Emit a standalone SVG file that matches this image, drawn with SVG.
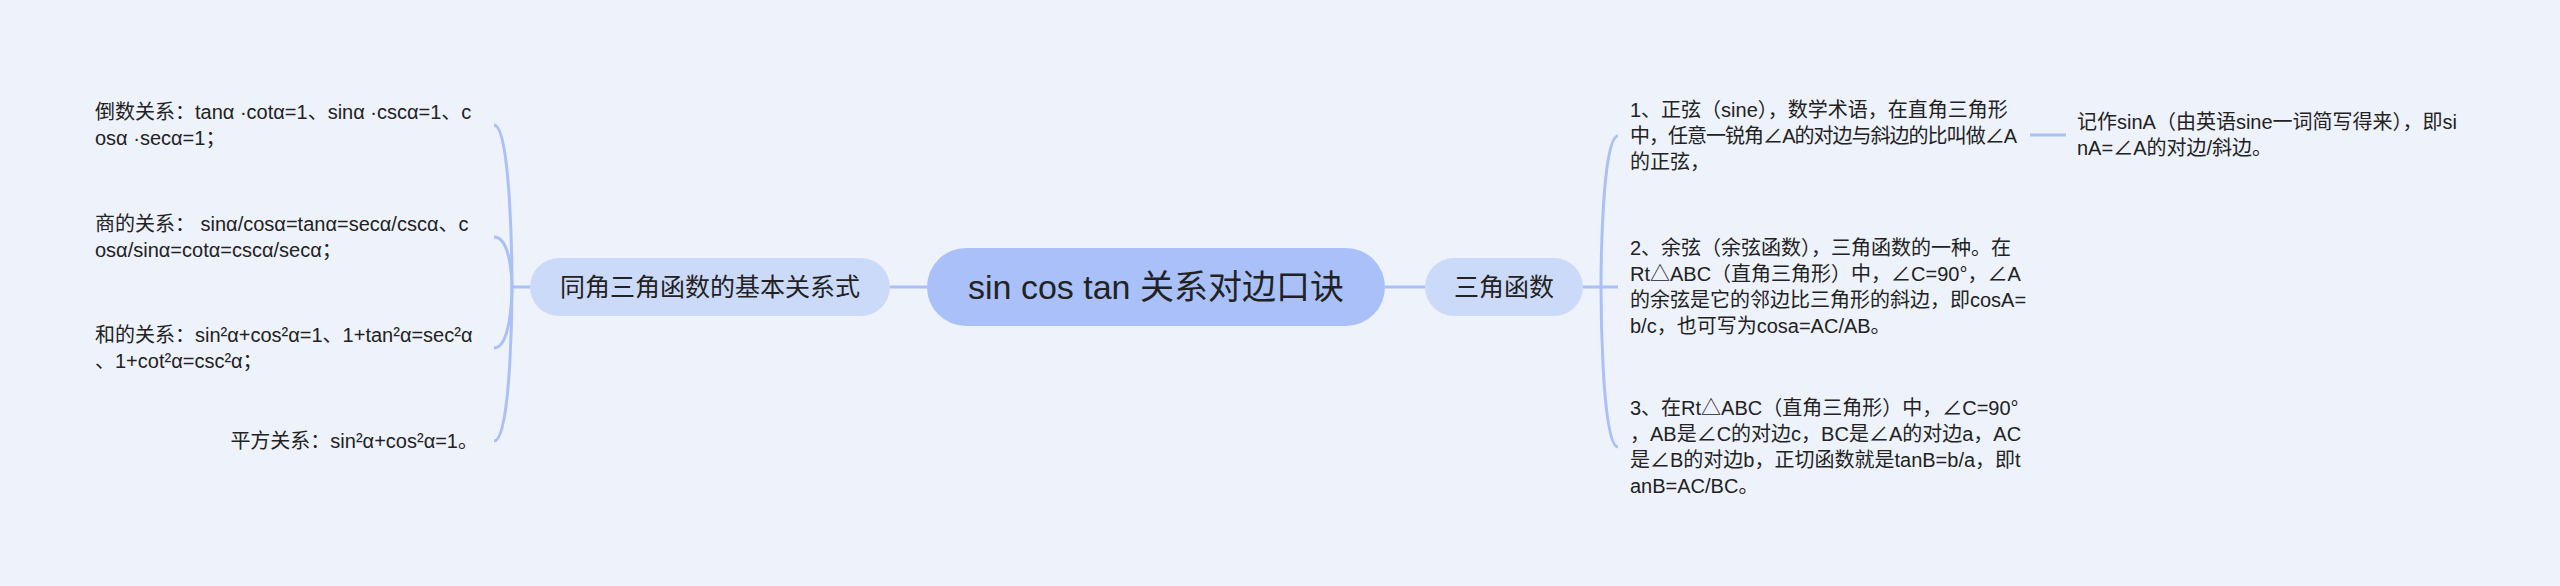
<svg xmlns="http://www.w3.org/2000/svg" width="2560" height="586" viewBox="0 0 2560 586">
<style>
text{font-family:'Liberation Sans','Noto Sans CJK SC',sans-serif;fill:#222222}
.leaf{font-size:20px}
.sub{font-size:25px}
.root{font-size:34px}
.main{fill:none;stroke:#A9C1F6;stroke-width:3}
.br{fill:none;stroke:#A9C1F6;stroke-width:3}
.rootbox{fill:#A9C1F8}
.subbox{fill:#CCDAFA}
</style>
<rect x="0" y="0" width="2560" height="586" fill="#EEF2FB"/>
<g id="connectors">
<path class="main" d="M927 287 L890 287"/>
<path class="main" d="M530 287 L512 287"/>
<path class="br" d="M512 287 C512 287 512 125 494 125"/>
<path class="br" d="M512 287 C512 287 512 237 494 237"/>
<path class="br" d="M512 287 C512 287 512 348 494 348"/>
<path class="br" d="M512 287 C512 287 512 441 494 441"/>
<path class="main" d="M1385 287 L1425 287"/>
<path class="main" d="M1583 287 L1601 287"/>
<path class="br" d="M1601 287 C1601 287 1601 136 1618 136"/>
<path class="br" d="M1601 287 L1618 287"/>
<path class="br" d="M1601 287 C1601 287 1601 447 1618 447"/>
<path class="br" d="M2030 135 L2066 135"/>
</g>
<g id="root">
<rect class="rootbox" x="927" y="248" width="458" height="78" rx="39"/>
<text class="root" x="1156" y="299" text-anchor="middle">sin cos tan 关系对边口诀</text>
</g>
<g id="sub-left">
<rect class="subbox" x="530" y="258" width="360" height="58" rx="29"/>
<text class="sub" x="710" y="296" text-anchor="middle">同角三角函数的基本关系式</text>
</g>
<g id="sub-right">
<rect class="subbox" x="1425" y="258" width="158" height="58" rx="29"/>
<text class="sub" x="1504" y="296" text-anchor="middle">三角函数</text>
</g>
<g id="leaf-l1">
<text class="leaf" x="95" y="119">倒数关系：tanα ·cotα=1、sinα ·cscα=1、c</text>
<text class="leaf" x="95" y="145">osα ·secα=1；</text>
</g>
<g id="leaf-l2">
<text class="leaf" x="95" y="231">商的关系： sinα/cosα=tanα=secα/cscα、c</text>
<text class="leaf" x="95" y="257">osα/sinα=cotα=cscα/secα；</text>
</g>
<g id="leaf-l3">
<text class="leaf" x="95" y="342">和的关系：sin²α+cos²α=1、1+tan²α=sec²α</text>
<text class="leaf" x="95" y="368">、1+cot²α=csc²α；</text>
</g>
<g id="leaf-l4">
<text class="leaf" x="478" y="448" text-anchor="end">平方关系：sin²α+cos²α=1。</text>
</g>
<g id="leaf-r1">
<text class="leaf" x="1630" y="117">1、正弦（sine），数学术语，在直角三角形</text>
<text class="leaf" x="1630" y="143" textLength="387" lengthAdjust="spacing">中，任意一锐角∠A的对边与斜边的比叫做∠A</text>
<text class="leaf" x="1630" y="169">的正弦，</text>
</g>
<g id="leaf-r1a">
<text class="leaf" x="2077" y="129">记作sinA（由英语sine一词简写得来），即si</text>
<text class="leaf" x="2077" y="155">nA=∠A的对边/斜边。</text>
</g>
<g id="leaf-r2">
<text class="leaf" x="1630" y="255">2、余弦（余弦函数），三角函数的一种。在</text>
<text class="leaf" x="1630" y="281">Rt△ABC（直角三角形）中，∠C=90°，∠A</text>
<text class="leaf" x="1630" y="307">的余弦是它的邻边比三角形的斜边，即cosA=</text>
<text class="leaf" x="1630" y="333">b/c，也可写为cosa=AC/AB。</text>
</g>
<g id="leaf-r3">
<text class="leaf" x="1630" y="415">3、在Rt△ABC（直角三角形）中，∠C=90°</text>
<text class="leaf" x="1630" y="441">，AB是∠C的对边c，BC是∠A的对边a，AC</text>
<text class="leaf" x="1630" y="467">是∠B的对边b，正切函数就是tanB=b/a，即t</text>
<text class="leaf" x="1630" y="493">anB=AC/BC。</text>
</g>
</svg>
